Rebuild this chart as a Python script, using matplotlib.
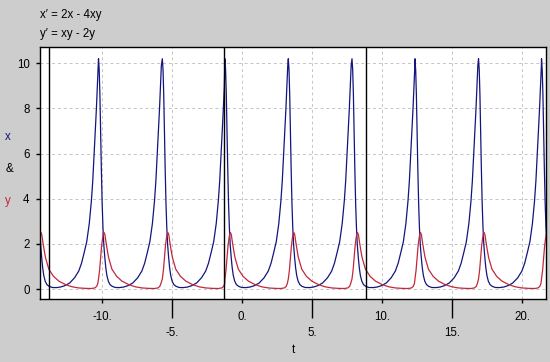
import matplotlib
matplotlib.use("Agg")
import matplotlib.pyplot as plt
import numpy as np

# peaks of x(t)
x_peak_times = [-14.78, -10.27, -5.71, -1.24, 3.29, 7.84, 12.34, 16.88, 21.38]

x_cycle_dt = [0.00, 0.05, 0.10, 0.15, 0.20, 0.26, 0.32, 0.38, 0.45, 0.52, 0.60,
              0.70, 0.82, 0.98, 1.20, 1.50, 1.80, 2.10, 2.45, 2.80, 3.10, 3.30,
              3.50, 3.67, 3.85, 4.00, 4.10, 4.19, 4.28, 4.36, 4.43, 4.49]
x_cycle = [10.2, 9.7, 8.6, 7.0, 5.4, 3.8, 2.7, 1.95, 1.4, 0.95, 0.6,
           0.35, 0.2, 0.12, 0.07, 0.065, 0.09, 0.15, 0.27, 0.5, 0.8, 1.15,
           1.65, 2.1, 2.9, 3.9, 4.8, 5.9, 7.0, 8.0, 9.0, 9.9]

y_cycle_dt = [0.00, 0.08, 0.15, 0.22, 0.29, 0.35, 0.40, 0.46, 0.53, 0.62, 0.72,
              0.96, 1.30, 1.68, 2.15, 2.63, 3.10, 3.60, 4.00, 4.25, 4.38, 4.46]
y_cycle = [0.45, 0.85, 1.4, 1.9, 2.25, 2.45, 2.5, 2.4, 2.1, 1.75, 1.4,
           0.88, 0.56, 0.35, 0.2, 0.1, 0.05, 0.03, 0.025, 0.05, 0.12, 0.25]

# vertical black lines
marker_lines = [-13.8, -1.29, 8.81]

x_ticks = [-10, 0, 10, 20]
x_tick_labels = ["-10.", "0.", "10.", "20."]
x_low_ticks = [-5, 5, 15]
x_low_labels = ["-5.", "5.", "15."]
y_ticks = [0, 2, 4, 6, 8, 10]


def tile(dts, vals):
    ts, vs = [], []
    for i, p in enumerate(x_peak_times):
        nxt = x_peak_times[i + 1] if i + 1 < len(x_peak_times) else np.inf
        for d, v in zip(dts, vals):
            if p + d < nxt:
                ts.append(p + d)
                vs.append(v)
    return np.array(ts), np.array(vs)


tx, xv = tile(x_cycle_dt, x_cycle)
ty, yv = tile(y_cycle_dt, y_cycle)

plt.rcParams['font.family'] = ['Liberation Sans', 'DejaVu Sans']

blue = '#14147e'
red = '#c0283c'

fig = plt.figure(figsize=(5.5, 3.62), dpi=100, facecolor='#cdcdcd')
ax = fig.add_axes([40 / 550, 63 / 362, 506 / 550, 252 / 362])
ax.set_facecolor('white')

ax.plot(tx, xv, color=blue, lw=0.9, zorder=2)
ax.plot(ty, yv, color=red, lw=0.9, zorder=2)

for v in marker_lines:
    ax.axvline(v, color='black', lw=1.0, zorder=3)

ax.set_xlim(-14.45, 21.7)
ax.set_ylim(-0.44, 10.72)

ax.set_xticks(x_ticks)
ax.set_xticklabels(x_tick_labels)
ax.set_xticks(x_low_ticks, minor=True)
ax.set_xticklabels(x_low_labels, minor=True)
ax.set_yticks(y_ticks)
ax.set_yticklabels([str(v) for v in y_ticks])

ax.tick_params(axis='x', which='major', length=3, width=1, pad=5.5, labelsize=8.3)
ax.tick_params(axis='x', which='minor', length=13.7, width=1, pad=6.5, labelsize=8.3)
ax.tick_params(axis='y', which='major', length=3, width=1, pad=4.5, labelsize=8.3)

grid_kw = dict(color='#c4c4c4', linestyle=(0, (3, 3)), linewidth=0.7)
ax.grid(True, which='major', **grid_kw)
ax.xaxis.grid(True, which='minor', **grid_kw)
ax.set_axisbelow(True)

for s in ax.spines.values():
    s.set_color('black')
    s.set_linewidth(1.0)

fig.text(40 / 550, 1 - 15 / 362, "x\u2032 = 2x - 4xy", fontsize=8.3, va='center', ha='left')
fig.text(40 / 550, 1 - 34 / 362, "y\u2032 = xy - 2y", fontsize=8.3, va='center', ha='left')

fig.text(8 / 550, 1 - 137 / 362, "x", color=blue, fontsize=8.3, ha='center', va='center')
fig.text(10 / 550, 1 - 169 / 362, "&", color='black', fontsize=8.3, ha='center', va='center')
fig.text(8 / 550, 1 - 201 / 362, "y", color=red, fontsize=8.3, ha='center', va='center')

fig.text(293 / 550, 1 - 350 / 362, "t", fontsize=8.3, ha='center', va='center')

fig.savefig("out.png", dpi=100, facecolor=fig.get_facecolor())
